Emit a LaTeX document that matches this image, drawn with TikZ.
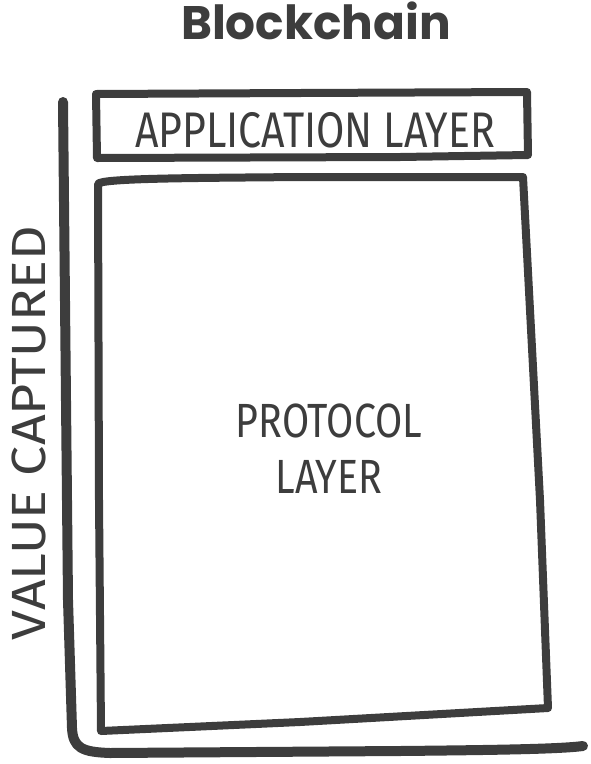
\documentclass[tikz,border=0pt]{standalone}
\usepackage{fontspec}
\setmainfont{Poppins}
\newfontfamily\handfont[FakeStretch=0.82]{Fira Sans}
\newfontfamily\handwide[FakeStretch=1.12]{Fira Sans}
\definecolor{ink}{HTML}{3D3D3D}

\begin{document}
\begin{tikzpicture}
[x=1pt,y=-1pt,%
  pen/.style={draw=ink,line width=8pt,line cap=round,line join=round},%
  axis/.style={draw=ink,line width=10pt,line cap=round,line join=round},%
  hand/.style={font=\handfont\fontsize{48}{56}\selectfont,text=ink,inner sep=0pt,align=center}]
\useasboundingbox (0,0) rectangle (591,764);
% title
\node[font=\bfseries\fontsize{47}{50}\selectfont,text=ink] (title) at (316,21) {Blockchain};
% value axis
\coordinate (axtop) at (63,102);
\coordinate (axend) at (583,746);
\draw[axis] (axtop) -- (68,600) -- (72,728) .. controls (73,748) and (82,752) .. (110,753)
  -- (400,751) .. controls (500,750) and (560,749) .. (axend);
\node[hand,font=\handwide\fontsize{48}{52}\selectfont,rotate=90] (value) at (29,433) {VALUE CAPTURED};
% application layer
\draw[pen] (96,94) -- (300,93) -- (527,92) -- (528,155) -- (400,157) -- (97,158) -- cycle;
\node[hand,font=\handfont\fontsize{50}{54}\selectfont] (app) at (315,130) {APPLICATION LAYER};
% protocol layer
\coordinate (pa) at (98,184);
\coordinate (pb) at (523,177);
\coordinate (pc) at (548,708);
\coordinate (pd) at (101,731);
\draw[pen] (pa) .. controls (100,178) and (200,178) .. (300,177) -- (pb) -- (540,500) -- (pc) -- (300,722) -- (pd) -- (99,500) -- cycle;
\node[hand] (proto) at (329,449) {PROTOCOL\\LAYER};
\end{tikzpicture}
\end{document}
